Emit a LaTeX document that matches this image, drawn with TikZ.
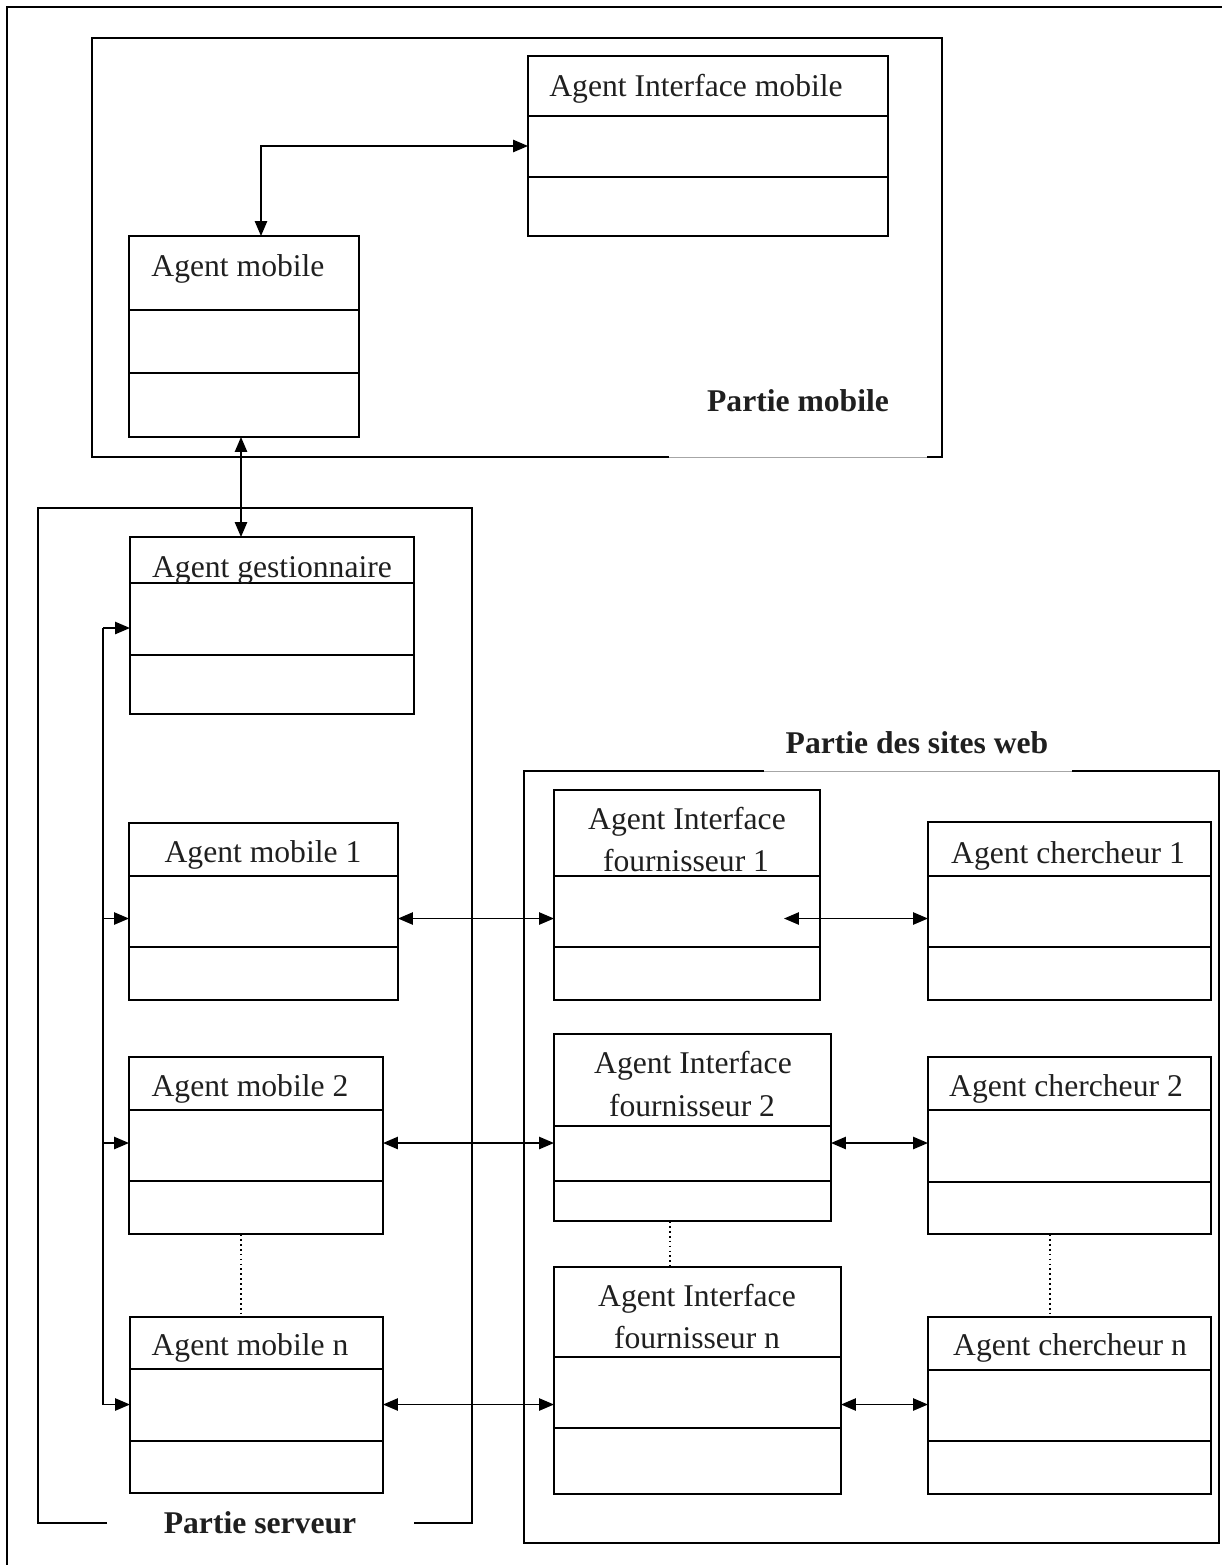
\documentclass[tikz,border=0pt]{standalone}
\usepackage{fontspec}
\setmainfont{Liberation Serif}
\usetikzlibrary{arrows.meta,fit}

% an agent class box: outline plus two compartment rules
\newcommand\agentbox[7]{% name, x1, y1, x2, y2, rule 1, rule 2
  \node[box,fit={(#2,#3) (#4,#5)}] (#1) {};
  \draw[rule] (#2,#6) -- (#4,#6);
  \draw[rule] (#2,#7) -- (#4,#7);
}

\begin{document}
\begin{tikzpicture}[x=0.02cm,y=-0.02cm,
  every node/.style={inner sep=0pt,outer sep=0pt},
  frame/.style={draw,line width=1pt},
  box/.style={draw,line width=1pt,inner sep=0pt,outer sep=0pt},
  rule/.style={line width=1pt},
  txt/.style={anchor=base,font=\fontsize{18}{22}\selectfont,text=black!88},
  title/.style={anchor=base,font=\fontsize{18}{22}\selectfont\bfseries,text=black!88},
  tip/.tip={Triangle[length=8.5pt,width=7pt]},
  link/.style={line width=0.9pt,tip-tip},
  feed/.style={line width=0.9pt,-tip},
  dots/.style={line width=1pt,dash pattern=on 1pt off 1.8pt},
  gap/.style={line width=0.3pt,black!35}]

\useasboundingbox (0,0) rectangle (1222,1565);
\clip (0,0) rectangle (1222,1565);

% outer frame
\draw[frame] (7,7) rectangle (1250,1600);

% Partie mobile
\draw[frame] (669,457) -- (92,457) -- (92,38) -- (942,38) -- (942,457) -- (927,457);
\draw[gap] (669,457) -- (927,457);

% Partie serveur (bottom edge broken by its caption)
\draw[frame] (107,1523) -- (38,1523) -- (38,508) -- (472,508) -- (472,1523) -- (414,1523);

% Partie des sites web
\draw[frame] (764,771) -- (524,771) -- (524,1543) -- (1219,1543) -- (1219,771) -- (1072,771);
\draw[gap] (764,771) -- (1072,771);

% agent boxes
\agentbox{aim}{528}{56}{888}{236}{116}{177}
\agentbox{am}{129}{236}{359}{437}{310}{373}
\agentbox{ag}{130}{537}{414}{714}{583}{655}
\agentbox{m1}{129}{823}{398}{1000}{876}{947}
\agentbox{m2}{129}{1057}{383}{1234}{1110}{1181}
\agentbox{mn}{130}{1317}{383}{1493}{1369}{1441}
\agentbox{if1}{554}{790}{820}{1000}{876}{947}
\agentbox{c1}{928}{822}{1211}{1000}{876}{947}
\agentbox{if2}{554}{1034}{831}{1221}{1126}{1181}
\agentbox{c2}{928}{1057}{1211}{1234}{1110}{1182}
\agentbox{ifn}{554}{1267}{841}{1494}{1357}{1428}
\agentbox{cn}{928}{1317}{1211}{1494}{1370}{1441}

% labels
\node[txt] (aimT) at (696,96.7) {Agent Interface mobile};
\node[txt] (amT) at (238,276.7) {Agent mobile};
\node[title] (pmT) at (798,411.7) {Partie mobile};
\node[txt] (agT) at (272,577) {Agent gestionnaire};
\node[txt] (m1T) at (263,862.7) {Agent mobile 1};
\node[txt] (m2T) at (250,1096.7) {Agent mobile 2};
\node[txt] (mnT) at (250,1355) {Agent mobile n};
\node[title] (psT) at (260,1533) {Partie serveur};
\node[title] (pwT) at (917,753) {Partie des sites web};
\node[txt] (if1Ta) at (687,829.3) {Agent Interface};
\node[txt] (if1Tb) at (686,871.7) {fournisseur 1};
\node[txt] (c1T) at (1068,863.3) {Agent chercheur 1};
\node[txt] (if2Ta) at (693,1073.3) {Agent Interface};
\node[txt] (if2Tb) at (692,1116) {fournisseur 2};
\node[txt] (c2T) at (1066,1096) {Agent chercheur 2};
\node[txt] (ifnTa) at (697,1306) {Agent Interface};
\node[txt] (ifnTb) at (697,1348.3) {fournisseur n};
\node[txt] (cnT) at (1070,1355) {Agent chercheur n};

% mobile side
\coordinate (bend) at (261,146);
\draw[link] (am.north -| bend) |- (aim.west |- bend);
\coordinate (vlink) at (241,0);
\draw[link] (am.south -| vlink) -- (ag.north -| vlink);

% manager bus
\coordinate (busTop) at (103,628);
\coordinate (busR1) at (103,918.5);
\coordinate (busR2) at (103,1143);
\coordinate (busRn) at (103,1404.5);
\draw[line width=0.9pt] (busTop) -- (busRn);
\draw[feed] (busTop) -- (ag.west |- busTop);
\draw[feed] (busR1) -- (m1.west |- busR1);
\draw[feed] (busR2) -- (m2.west |- busR2);
\draw[feed] (busRn) -- (mn.west |- busRn);

% server to web sites
\coordinate (if1inner) at (784,918.5);
\draw[link] (m1.east |- busR1) -- (if1.west |- busR1);
\draw[link] (if1inner) -- (c1.west |- busR1);
\draw[link] (m2.east |- busR2) -- (if2.west |- busR2);
\draw[link] (if2.east |- busR2) -- (c2.west |- busR2);
\draw[link] (mn.east |- busRn) -- (ifn.west |- busRn);
\draw[link] (ifn.east |- busRn) -- (cn.west |- busRn);

% elided agents
\coordinate (dm) at (241,0);
\coordinate (di) at (670,0);
\coordinate (dc) at (1050,0);
\draw[dots] (m2.south -| dm) -- (mn.north -| dm);
\draw[dots] (if2.south -| di) -- (ifn.north -| di);
\draw[dots] (c2.south -| dc) -- (cn.north -| dc);
\end{tikzpicture}
\end{document}
